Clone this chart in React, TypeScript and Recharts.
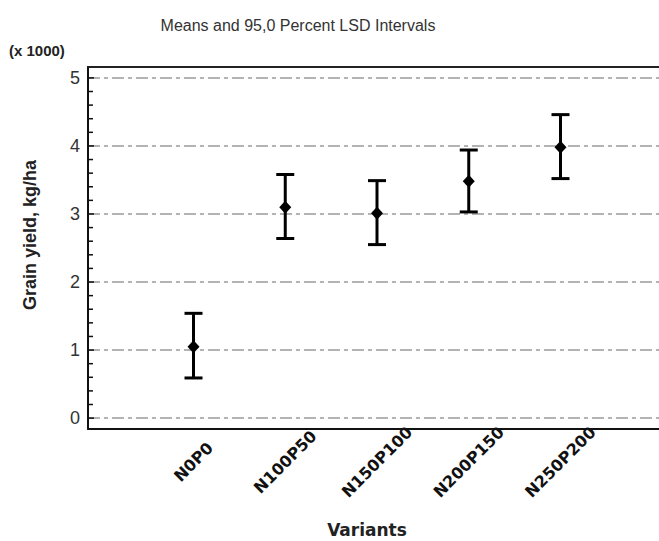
import React from 'react';
import { ScatterChart, Scatter, XAxis, YAxis, ErrorBar, ReferenceLine, ReferenceArea } from 'recharts';

const categories = ['N0P0', 'N100P50', 'N150P100', 'N200P150', 'N250P200'];
const means = [1.05, 3.1, 3.01, 3.48, 3.98];
const lowerLimits = [0.59, 2.64, 2.55, 3.03, 3.52];
const upperLimits = [1.54, 3.58, 3.49, 3.94, 4.46];
const yTicks = [0, 0.2, 0.4, 0.6, 0.8, 1, 1.2, 1.4, 1.6, 1.8, 2, 2.2, 2.4, 2.6, 2.8, 3, 3.2, 3.4, 3.6, 3.8, 4, 4.2, 4.4, 4.6, 4.8, 5];
const majorTicks = [0, 1, 2, 3, 4, 5];

const data = categories.map((name, i) => ({
  x: i + 1,
  name,
  mean: means[i],
  err: [means[i] - lowerLimits[i], upperLimits[i] - means[i]],
}));

const Diamond = (props: any) => {
  const { cx, cy } = props;
  return <polygon points={`${cx},${cy - 6.5} ${cx + 6},${cy} ${cx},${cy + 6.5} ${cx - 6},${cy}`} fill="#000" />;
};

const XTick = (props: any) => {
  const { x, y, payload } = props;
  const cy = y + 33;
  return (
    <text
      x={x}
      y={cy}
      textAnchor="middle"
      dominantBaseline="central"
      transform={`rotate(-45 ${x} ${cy})`}
      fontFamily="DejaVu Sans"
      fontWeight="bold"
      fontSize={16}
      fill="#111"
    >
      {categories[payload.value - 1]}
    </text>
  );
};

const YTick = (props: any) => {
  const { x, y, payload } = props;
  const v = payload.value;
  const major = Math.abs(v - Math.round(v)) < 1e-6;
  return (
    <g>
      <line x1={x} x2={x + (major ? 6 : 5)} y1={y} y2={y} stroke="#111" strokeWidth={1.5} />
      {major && (
        <text x={x - 8} y={y} textAnchor="end" dominantBaseline="central" fontFamily="Liberation Sans" fontSize={18} fill="#333">
          {v}
        </text>
      )}
    </g>
  );
};

export default function App() {
  return (
    <div style={{ position: 'absolute', left: 0, top: 0, width: 659, height: 541, overflow: 'hidden', background: '#fff' }}>
      <ScatterChart width={680} height={541} margin={{ top: 67, right: 14, bottom: 0, left: 0 }}>
        <XAxis
          type="number"
          dataKey="x"
          domain={[-0.15, 6.15]}
          ticks={[1, 2, 3, 4, 5]}
          interval={0}
          allowDataOverflow
          height={112}
          tickSize={0}
          tickMargin={0}
          tickLine={false}
          axisLine={{ stroke: '#111', strokeWidth: 2 }}
          tick={<XTick />}
        />
        <YAxis
          type="number"
          domain={[-0.16, 5.16]}
          ticks={yTicks}
          interval={0}
          allowDataOverflow
          width={88}
          tickSize={0}
          tickMargin={0}
          tickLine={false}
          axisLine={{ stroke: '#111', strokeWidth: 2 }}
          tick={<YTick />}
        />
        {majorTicks.map((v) => (
          <ReferenceLine key={v} y={v} stroke="#9a9a9a" strokeWidth={1.5} strokeDasharray="12 4 4 4" />
        ))}
        <ReferenceArea x1={-0.15} x2={6.15} y1={-0.16} y2={5.16} fill="none" stroke="#222" strokeWidth={2} ifOverflow="visible" />
        <Scatter data={data} dataKey="mean" shape={<Diamond />} isAnimationActive={false}>
          <ErrorBar dataKey="err" direction="y" width={9} strokeWidth={3} stroke="#000" />
        </Scatter>
      </ScatterChart>
      <svg width={659} height={541} style={{ position: 'absolute', left: 0, top: 0, pointerEvents: 'none' }}>
        <text x={298} y={25} textAnchor="middle" dominantBaseline="central" fontFamily="Liberation Sans" fontSize={16} fill="#333">
          Means and 95,0 Percent LSD Intervals
        </text>
        <text x={9} y={50} dominantBaseline="central" fontFamily="Liberation Sans" fontWeight="bold" fontSize={15} fill="#222">
          (x 1000)
        </text>
        <text
          x={30}
          y={235}
          textAnchor="middle"
          dominantBaseline="central"
          transform="rotate(-90 30 235)"
          fontFamily="Liberation Sans"
          fontWeight="bold"
          fontSize={18}
          fill="#222"
        >
          Grain yield, kg/ha
        </text>
        <text x={367} y={530} textAnchor="middle" dominantBaseline="central" fontFamily="DejaVu Sans" fontWeight="bold" fontSize={17} fill="#222">
          Variants
        </text>
      </svg>
    </div>
  );
}
